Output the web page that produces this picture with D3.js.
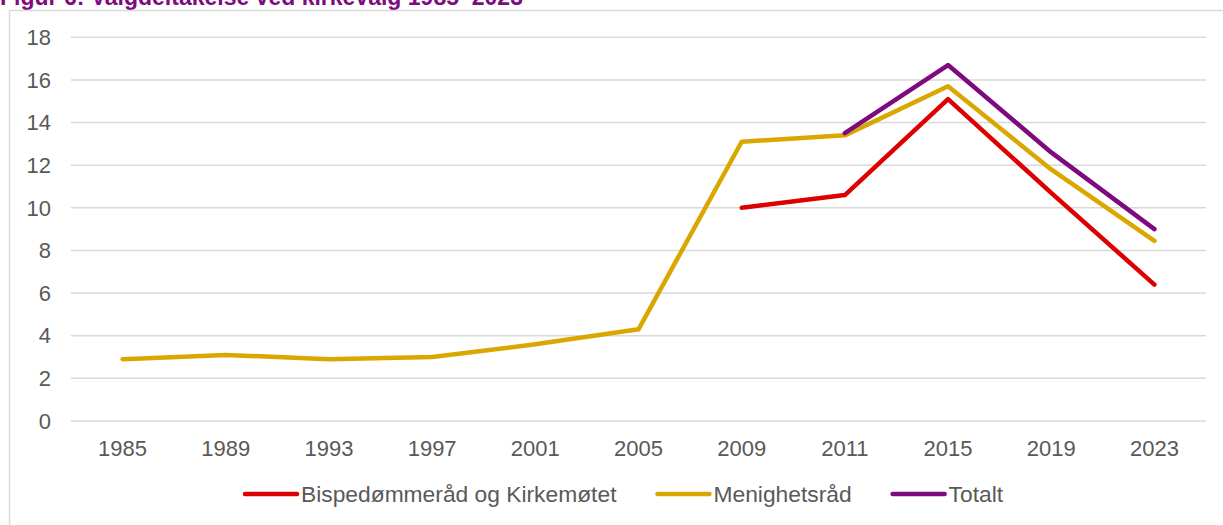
<!DOCTYPE html>
<html>
<head>
<meta charset="utf-8">
<script src="https://d3js.org/d3.v7.min.js"></script>
<style>
  html, body { margin: 0; padding: 0; background: #fff; }
  svg { display: block; font-family: "Liberation Sans", Arial, sans-serif; }
</style>
</head>
<body>
<svg id="chart" width="1223" height="525"></svg>
<script>
// ── 数据 ────────────────────────────────────────────
const years = ["1985", "1989", "1993", "1997", "2001", "2005", "2009", "2011", "2015", "2019", "2023"];
const bispedommerad = [null, null, null, null, null, null, 10.0, 10.6, 15.1, 10.7, 6.4];
const menighetsrad = [2.9, 3.1, 2.9, 3.0, 3.6, 4.3, 13.1, 13.4, 15.7, 11.8, 8.45];
const totalt = [null, null, null, null, null, null, null, 13.5, 16.7, 12.6, 9.0];
const yTicks = [0, 2, 4, 6, 8, 10, 12, 14, 16, 18];

const series = [
    { name: "Bispedømmeråd og Kirkemøtet", values: bispedommerad, color: "#dc0000" },
    { name: "Menighetsråd", values: menighetsrad, color: "#daa700" },
    { name: "Totalt", values: totalt, color: "#7d0b7f" },
];

const svg = d3.select("#chart");

// 标题（参考图中上半部分被裁掉）
svg.append("text")
    .attr("x", 0)
    .attr("y", 4.5)
    .attr("font-size", "23px")
    .attr("font-weight", "bold")
    .attr("fill", "#7d0b7f")
    .text("Figur 6: Valgdeltakelse ved kirkevalg 1985–2023");

// 外框
svg.append("rect")
    .attr("x", 9.5)
    .attr("y", 10.5)
    .attr("width", 1240)
    .attr("height", 540)
    .attr("fill", "none")
    .attr("stroke", "#d9d9d9")
    .attr("stroke-width", 1.5);

// ── 比例尺 ──────────────────────────────────────────
const x = d3.scaleBand().domain(years).range([71, 1206]);
const y = d3.scaleLinear().domain([0, 18]).range([421, 37.3]);
const cx = d => x(d) + x.bandwidth() / 2;

// 网格线
svg.append("g")
    .selectAll("line")
    .data(yTicks)
    .join("line")
    .attr("x1", 71)
    .attr("x2", 1206)
    .attr("y1", d => y(d))
    .attr("y2", d => y(d))
    .attr("stroke", "#d9d9d9")
    .attr("stroke-width", 1.5);

// Y 轴标签
svg.append("g")
    .selectAll("text")
    .data(yTicks)
    .join("text")
    .attr("x", 51)
    .attr("y", d => y(d))
    .attr("dy", "0.35em")
    .attr("text-anchor", "end")
    .attr("font-size", "22px")
    .attr("fill", "#595959")
    .text(d => d);

// X 轴标签
svg.append("g")
    .selectAll("text")
    .data(years)
    .join("text")
    .attr("x", d => cx(d))
    .attr("y", 448)
    .attr("dy", "0.35em")
    .attr("text-anchor", "middle")
    .attr("font-size", "22px")
    .attr("fill", "#595959")
    .text(d => d);

// ── 折线 ────────────────────────────────────────────
const line = d3.line()
    .defined(d => d.v !== null)
    .x(d => cx(d.year))
    .y(d => y(d.v));

svg.append("g")
    .selectAll("path")
    .data(series)
    .join("path")
    .attr("fill", "none")
    .attr("stroke", d => d.color)
    .attr("stroke-width", 4.5)
    .attr("stroke-linecap", "round")
    .attr("stroke-linejoin", "round")
    .attr("d", s => line(s.values.map((v, i) => ({ year: years[i], v }))));

// ── 图例 ────────────────────────────────────────────
const legend = svg.append("g");
let lx = 245;
const ly = 494;
series.forEach(s => {
    legend.append("line")
        .attr("x1", lx)
        .attr("x2", lx + 52)
        .attr("y1", ly)
        .attr("y2", ly)
        .attr("stroke", s.color)
        .attr("stroke-width", 4.5)
        .attr("stroke-linecap", "round");
    const t = legend.append("text")
        .attr("x", lx + 56)
        .attr("y", ly)
        .attr("dy", "0.35em")
        .attr("font-size", "22.8px")
        .attr("fill", "#595959")
        .text(s.name);
    lx += 56 + t.node().getComputedTextLength() + 41;
});
</script>
</body>
</html>
